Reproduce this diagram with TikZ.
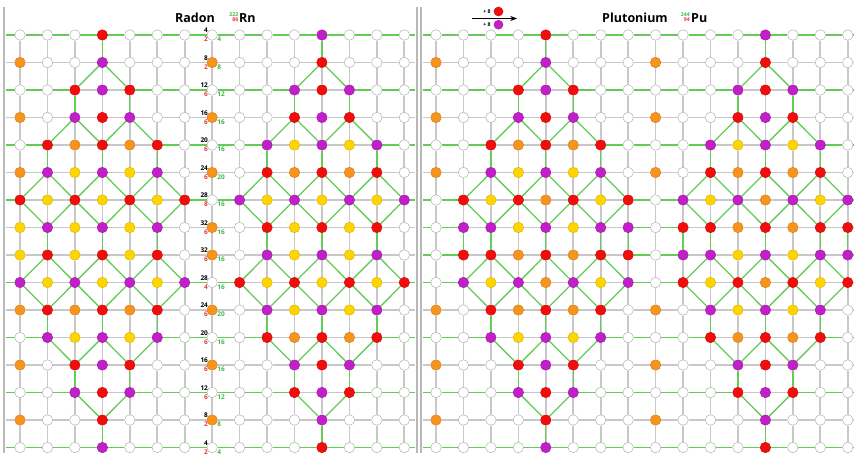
\documentclass[tikz,border=0pt]{standalone}
\usepackage{fontspec}
\setmainfont{Open Sans}
\usepackage{xcolor}
\usepackage{tikz}
\usetikzlibrary{arrows.meta}

\definecolor{nred}{HTML}{F20D0D}
\definecolor{npurple}{HTML}{C11FC8}
\definecolor{norange}{HTML}{F7941D}
\definecolor{nyellow}{HTML}{FFD500}
\definecolor{shellgreen}{HTML}{62CC55}
\definecolor{gridgray}{HTML}{C8C8C8}
\definecolor{numred}{HTML}{E8383D}
\definecolor{numgreen}{HTML}{3DB84A}

% links of one shell structure: row/offset -> row/offset
\newcommand{\shelllinks}{0/0/1/0,1/0/2/-1,1/0/2/1,2/-1/3/-1,2/1/3/1,3/-1/4/-2,3/-1/4/0,3/1/4/0,3/1/4/2,4/-2/5/-2,4/0/5/0,4/2/5/2,5/-2/6/-3,5/-2/6/-1,5/0/6/-1,5/0/6/1,5/2/6/1,5/2/6/3,6/-3/7/-2,6/-1/7/-2,6/-1/7/0,6/1/7/0,6/1/7/2,6/3/7/2,7/-2/8/-2,7/0/8/0,7/2/8/2,8/-2/9/-3,8/-2/9/-1,8/0/9/-1,8/0/9/1,8/2/9/1,8/2/9/3,9/-3/10/-2,9/-1/10/-2,9/-1/10/0,9/1/10/0,9/1/10/2,9/3/10/2,10/-2/11/-2,10/0/11/0,10/2/11/2,11/-2/12/-1,11/0/12/-1,11/0/12/1,11/2/12/1,12/-1/13/-1,12/1/13/1,13/-1/14/0,13/1/14/0,14/0/15/0}

\begin{document}
\begin{tikzpicture}[x=1pt,y=-1pt,>={Stealth[length=2.4mm,width=1.8mm]},
  atom/.style={circle,draw,line width=0.5pt,inner sep=0pt,minimum size=10.5pt},
  atom-w/.style={atom,draw=gray!60,fill=white},
  atom-o/.style={atom,draw=norange!85!black,fill=norange},
  atom-y/.style={atom,draw=nyellow!85!black,fill=nyellow},
  atom-r/.style={atom,draw=nred!85!black,fill=nred},
  atom-p/.style={atom,draw=npurple!85!black,fill=npurple},
  gridline/.style={gridgray,line width=1.7pt},
  shell/.style={shellgreen,line width=1.3pt},
  border/.style={gray!55,line width=1.3pt},
  num/.style={inner sep=0pt,font=\fontsize{6.5}{7}\selectfont\bfseries},
  title/.style={inner sep=0pt,font=\fontsize{12.5}{14}\selectfont\bfseries},
  iso/.style={inner sep=0pt,font=\fontsize{5.2}{6}\selectfont\bfseries}]
  \useasboundingbox[fill=white] (0,0) rectangle (855,453);

  % panel borders
  \draw[border] (4,7) -- (4,453);
  \draw[border] (417,7) -- (417,453);
  \draw[border] (421,7) -- (421,453);

  % ---------- Radon ----------
  \foreach \row [count=\r from 0] in {%
    {w,w,w,r,w,w,w,w,w,w,w,p,w,w,w},%
    {o,w,w,p,w,w,w,o,w,w,w,r,w,w,w},%
    {w,w,r,p,r,w,w,w,w,w,p,r,p,w,w},%
    {o,w,p,r,p,w,w,o,w,w,r,p,r,w,w},%
    {w,r,o,r,o,r,w,w,w,p,y,p,y,p,w},%
    {o,p,y,p,y,p,w,o,w,r,o,r,o,r,w},%
    {r,y,r,y,r,y,r,w,p,y,p,y,p,y,p},%
    {y,p,y,p,y,p,w,o,w,r,y,r,y,r,w},%
    {y,r,y,r,y,r,w,o,w,p,y,p,y,p,w},%
    {p,y,p,y,p,y,p,w,r,y,r,y,r,y,r},%
    {o,r,o,r,o,r,w,o,w,p,y,p,y,p,w},%
    {w,p,y,p,y,p,w,w,w,r,o,r,o,r,w},%
    {o,w,r,p,r,w,w,o,w,w,p,r,p,w,w},%
    {w,w,p,r,p,w,w,w,w,w,r,p,r,w,w},%
    {o,w,w,r,w,w,w,o,w,w,w,p,w,w,w},%
    {w,w,w,p,w,w,w,w,w,w,w,r,w,w,w}}{%
    \foreach \k [count=\c from 0] in \row
      \node[atom-\k] (rn-\r-\c) at ({20+27.45*\c},{35+27.5*\r}) {};
    \coordinate (rn-l-\r) at (6,{35+27.5*\r});
    \coordinate (rn-e-\r) at (415,{35+27.5*\r});
  }
  \foreach \r in {0,...,15} {
    \draw[gridline] (rn-l-\r) -- (rn-\r-0);
    \draw[gridline] (rn-\r-14) -- (rn-e-\r);
    \foreach \c [evaluate=\c as \n using int(\c+1)] in {0,...,13}
      \draw[gridline] (rn-\r-\c) -- (rn-\r-\n);
  }
  \foreach \r in {0,...,14} {
    \pgfmathtruncatemacro\nr{\r+1}
    \foreach \c in {0,...,14}
      \draw[gridline] (rn-\r-\c) -- (rn-\nr-\c);
  }
  \foreach \r/\lo/\hi in {0/3/3,2/2/4,4/1/5,6/0/6,9/0/6,11/1/5,13/2/4,15/3/3} {
    \draw[shell] (rn-l-\r) -- (rn-\r-0);
    \draw[shell] (rn-\r-14) -- (rn-e-\r);
    \foreach \c in {0,...,13} {
      \pgfmathtruncatemacro\n{\c+1}
      \pgfmathtruncatemacro\g{and(or(\c<\lo,\c>=\hi),or(\c<\lo+8,\c>=\hi+8))}
      \ifnum\g=1 \draw[shell] (rn-\r-\c) -- (rn-\r-\n);\fi
    }
  }
  \foreach \ctr in {3,11}
    \foreach \ra/\da/\rb/\db in \shelllinks {
      \pgfmathtruncatemacro\ca{\ctr+\da}
      \pgfmathtruncatemacro\cb{\ctr+\db}
      \draw[shell] (rn-\ra-\ca) -- (rn-\rb-\cb);
    }
  \foreach \r/\a/\b/\g in {0/4/2/4,1/8/2/8,2/12/6/12,3/16/6/16,4/20/6/16,5/24/6/20,6/28/8/16,7/32/6/16,8/32/6/16,9/28/4/16,10/24/6/20,11/20/6/16,12/16/6/16,13/12/6/12,14/8/2/8,15/4/2/4} {
    \node[num,anchor=base east] (rn-a-\r) at ([shift={(-4,-2.5)}]rn-\r-7.center) {\a};
    \node[num,anchor=base east,text=numred] (rn-b-\r) at ([shift={(-4,6.5)}]rn-\r-7.center) {\b};
    \node[num,anchor=base west,text=numgreen] (rn-g-\r) at ([shift={(5,6.5)}]rn-\r-7.center) {\g};
  }
  \node[title,anchor=base east] (rn-name) at (215,22) {Radon};
  \node[iso,anchor=base east,text=numgreen] (rn-mass) at (238.5,16) {222};
  \node[iso,anchor=base east,text=numred] (rn-z) at (238.5,21) {86};
  \node[title,anchor=base west] (rn-sym) at (239,22) {Rn};

  % ---------- Plutonium ----------
  \foreach \row [count=\r from 0] in {%
    {w,w,w,w,r,w,w,w,w,w,w,w,p,w,w,w},%
    {o,w,w,w,p,w,w,w,o,w,w,w,r,w,w,w},%
    {w,w,w,r,p,r,w,w,w,w,w,p,r,p,w,w},%
    {o,w,w,p,r,p,w,w,o,w,w,r,p,r,w,w},%
    {w,w,r,o,r,o,r,w,w,w,p,y,p,y,p,w},%
    {o,w,p,y,p,y,p,w,o,w,r,o,r,o,r,w},%
    {w,r,y,r,o,r,y,r,w,p,y,p,o,p,y,p},%
    {w,p,p,y,p,y,p,p,w,r,r,o,r,o,r,r},%
    {w,r,r,o,r,o,r,r,w,p,p,y,p,y,p,p},%
    {w,p,y,p,o,p,y,p,w,r,y,r,o,r,y,r},%
    {o,w,r,o,r,o,r,w,o,w,p,y,p,y,p,w},%
    {w,w,p,y,p,y,p,w,w,w,r,o,r,o,r,w},%
    {o,w,w,r,p,r,w,w,o,w,w,p,r,p,w,w},%
    {w,w,w,p,r,p,w,w,w,w,w,r,p,r,w,w},%
    {o,w,w,w,r,w,w,w,o,w,w,w,p,w,w,w},%
    {w,w,w,w,p,w,w,w,w,w,w,w,r,w,w,w}}{%
    \foreach \k [count=\c from 0] in \row
      \node[atom-\k] (pu-\r-\c) at ({436+27.45*\c},{35+27.5*\r}) {};
    \coordinate (pu-l-\r) at (423,{35+27.5*\r});
    \coordinate (pu-e-\r) at (853,{35+27.5*\r});
  }
  \foreach \r in {0,...,15} {
    \draw[gridline] (pu-l-\r) -- (pu-\r-0);
    \draw[gridline] (pu-\r-15) -- (pu-e-\r);
    \foreach \c [evaluate=\c as \n using int(\c+1)] in {0,...,14}
      \draw[gridline] (pu-\r-\c) -- (pu-\r-\n);
  }
  \foreach \r in {0,...,14} {
    \pgfmathtruncatemacro\nr{\r+1}
    \foreach \c in {0,...,15}
      \draw[gridline] (pu-\r-\c) -- (pu-\nr-\c);
  }
  \foreach \r/\lo/\hi in {0/4/4,2/3/5,4/2/6,6/1/7,7/1/7,8/1/7,9/1/7,11/2/6,13/3/5,15/4/4} {
    \draw[shell] (pu-l-\r) -- (pu-\r-0);
    \draw[shell] (pu-\r-15) -- (pu-e-\r);
    \foreach \c in {0,...,14} {
      \pgfmathtruncatemacro\n{\c+1}
      \pgfmathtruncatemacro\g{and(or(\c<\lo,\c>=\hi),or(\c<\lo+8,\c>=\hi+8))}
      \ifnum\g=1 \draw[shell] (pu-\r-\c) -- (pu-\r-\n);\fi
    }
  }
  \foreach \ctr in {4,12}
    \foreach \ra/\da/\rb/\db in \shelllinks {
      \pgfmathtruncatemacro\ca{\ctr+\da}
      \pgfmathtruncatemacro\cb{\ctr+\db}
      \draw[shell] (pu-\ra-\ca) -- (pu-\rb-\cb);
    }
  \foreach \ctr in {1,7,9,15}
    \draw[shell] (pu-7-\ctr) -- (pu-8-\ctr);
  \node[title,anchor=base west] (pu-name) at (602,22) {Plutonium};
  \node[iso,anchor=base east,text=numgreen] (pu-mass) at (690,16) {244};
  \node[iso,anchor=base east,text=numred] (pu-z) at (690,21) {94};
  \node[title,anchor=base west] (pu-sym) at (691,22) {Pu};

  % legend
  \coordinate (leg-a) at (472,18.5);
  \coordinate (leg-b) at (517,18.5);
  \draw[->,line width=1pt] (leg-a) -- (leg-b);
  \node[atom-r,minimum size=9pt] (leg-red) at (498.5,11.5) {};
  \node[atom-p,minimum size=9pt] (leg-purple) at (498.5,24.7) {};
  \node[iso,anchor=east] (leg-plus-a) at ([xshift=-3pt]leg-red.west) {+ 8};
  \node[iso,anchor=east] (leg-plus-b) at ([xshift=-3pt]leg-purple.west) {+ 8};
\end{tikzpicture}
\end{document}
